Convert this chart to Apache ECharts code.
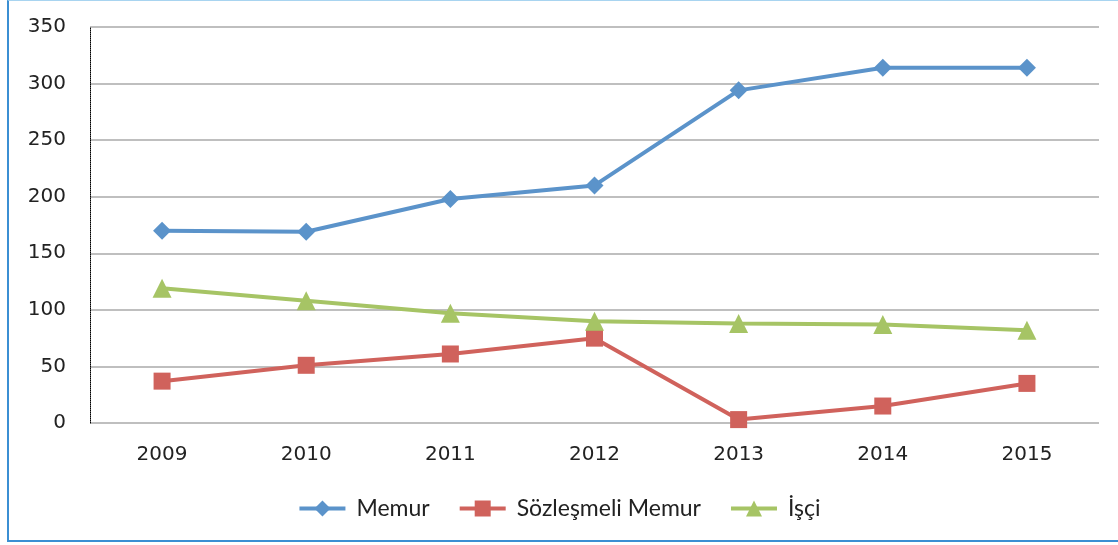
<!DOCTYPE html>
<html><head><meta charset="utf-8">
<script src="https://cdn.jsdelivr.net/npm/echarts@6/dist/echarts.min.js"></script>
<style>
html,body{margin:0;padding:0;background:#fff;}
#c{width:1118px;height:545px;position:absolute;left:0;top:0;}
#b{position:absolute;left:7px;top:0;width:1111px;height:542px;border-left:2px solid #3b8fd3;border-top:1px solid #a8d4f0;border-bottom:2px solid #3b8fd3;pointer-events:none;box-sizing:border-box;}
</style></head>
<body><div id="c"></div><div id="b"></div>
<script>
const categories = ['2009','2010','2011','2012','2013','2014','2015'];
const memur = [170, 169, 198, 210, 294, 314, 314];
const sozlesmeli = [37, 51, 61, 75, 3, 15, 35];
const isci = [119, 108, 97, 90, 88, 87, 82];
const seriesNames = ['Memur', 'Sözleşmeli Memur', 'İşçi'];

const chart = echarts.init(document.getElementById('c'));
const mk = (name, data, color, symbol, size) => ({
  name, type: 'line', data, symbol, symbolSize: size,
  lineStyle: {width: 4, color}, itemStyle: {color},
  emphasis: {disabled: true}, animation: false
});
chart.setOption({
  animation: false,
  grid: {left: 90, right: 19, top: 27, bottom: 122},
  legend: {
    bottom: 20, left: 'center', itemWidth: 46, itemHeight: 20, itemGap: 28,
    lineStyle: {width: 4},
    textStyle: {fontFamily: 'Lato', fontSize: 23, color: '#222', padding: [0, 0, 0, 6]},
    data: seriesNames
  },
  xAxis: {
    type: 'category', data: categories, boundaryGap: true,
    axisLine: {show: false}, axisTick: {show: false},
    axisLabel: {fontFamily: 'DejaVu Sans', fontSize: 20, color: '#222', margin: 22}
  },
  yAxis: {
    type: 'value', min: 0, max: 350, interval: 50,
    axisLine: {show: true, lineStyle: {color: '#000', type: 'dotted', width: 1}},
    axisTick: {show: false},
    splitLine: {lineStyle: {color: '#bfbfbf', width: 2}},
    axisLabel: {fontFamily: 'DejaVu Sans', fontSize: 20, color: '#222', margin: 24}
  },
  series: [
    mk(seriesNames[0], memur, '#5B93CA', 'diamond', 18),
    mk(seriesNames[1], sozlesmeli, '#D0625C', 'rect', 17),
    mk(seriesNames[2], isci, '#A6C465', 'triangle', 19)
  ]
});
</script></body></html>
